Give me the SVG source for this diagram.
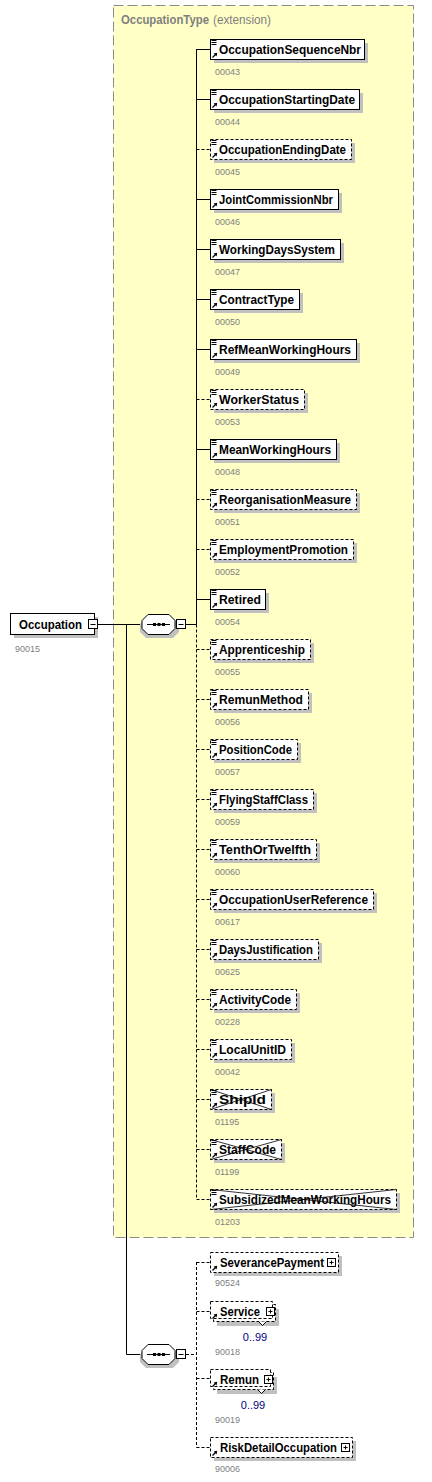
<svg xmlns="http://www.w3.org/2000/svg" xmlns:xlink="http://www.w3.org/1999/xlink" width="432" height="1482" viewBox="0 0 432 1482">
<style>
.bg{fill:#ffffc6;stroke:#8a8a8a;stroke-width:1;stroke-dasharray:10,4}
.sh{fill:#c0c0c0}
.bx{fill:#fff;stroke:#000;stroke-width:1}
.op{stroke-dasharray:3,2}
.lb{font-family:"Liberation Sans",Arial,sans-serif;font-weight:bold;font-size:13px;fill:#000}
.nm{font-family:"Liberation Sans",Arial,sans-serif;font-size:9px;fill:#808080}
.oc{font-family:"Liberation Sans",Arial,sans-serif;font-size:11px;fill:#000080}
.ti{font-family:"Liberation Sans",Arial,sans-serif;font-size:12px;fill:#808080}
.ln{stroke:#000;stroke-width:1;fill:none}
.dl{stroke:#000;stroke-width:1;fill:none;stroke-dasharray:3,2}
.x{stroke:#000;stroke-width:0.8}
</style>
<defs>
<g id="ico">
<path d="M211.5,1.5h5M211.5,3.5h5M211.5,5.5h5" stroke="#000" stroke-width="1"/>
<path d="M212.5,18.5L215.5,15.5" stroke="#000" stroke-width="1.2"/>
<path d="M217.2,13.8L213.6,14.4L216.6,17.4Z" fill="#000"/>
</g>
<g id="arr">
<path d="M212.5,18.5L215.5,15.5" stroke="#000" stroke-width="1.2"/>
<path d="M217.2,13.8L213.6,14.4L216.6,17.4Z" fill="#000"/>
</g>
<g id="seq">
<path d="M146,4L173,4L179,10L179,18L173,24L146,24L140,18L140,10Z" fill="#c0c0c0"/>
<path d="M148,0.5L169,0.5L175,6.5L175,14.5L169,20.5L148,20.5L142,14.5L142,6.5Z" fill="#fff" stroke="#000"/>
<path d="M147,10.5H170" stroke="#000"/>
<rect x="153" y="9" width="3" height="3" fill="#000"/>
<rect x="157.5" y="9" width="3" height="3" fill="#000"/>
<rect x="162" y="9" width="3" height="3" fill="#000"/>
<rect x="176.5" y="5.5" width="9" height="9" fill="#fff" stroke="#000"/>
<path d="M178.5,10.5H183.5" stroke="#000"/>
</g>
<g id="plus">
<rect x="0.5" y="0.5" width="8" height="8" fill="#fff" stroke="#000"/>
<path d="M2.5,4.5H6.5M4.5,2.5V6.5" stroke="#000"/>
</g>
</defs>

<rect class="bg" x="113.5" y="5.5" width="300" height="1232"/>
<text class="ti" x="121" y="24" font-weight="bold" textLength="88" lengthAdjust="spacingAndGlyphs">OccupationType</text>
<text class="ti" x="213" y="24" textLength="58" lengthAdjust="spacingAndGlyphs">(extension)</text>

<g id="connectors">
<path class="ln" d="M97.5,624.5H142M126.5,624.5V1354.5H141M186,624.5H196.5M196.5,49V624.5"/>
<path class="dl" d="M196.5,624.5V1199"/>
<path class="ln" d="M196.5,49.5H210M196.5,99.5H210M196.5,199.5H210M196.5,249.5H210M196.5,299.5H210M196.5,349.5H210M196.5,449.5H210M196.5,599.5H210"/>
<path class="dl" d="M196.5,149.5H210M196.5,399.5H210M196.5,499.5H210M196.5,549.5H210M196.5,649.5H210M196.5,699.5H210M196.5,749.5H210M196.5,799.5H210M196.5,849.5H210M196.5,899.5H210M196.5,949.5H210M196.5,999.5H210M196.5,1049.5H210M196.5,1099.5H210M196.5,1149.5H210M196.5,1199.5H210"/>
<path class="dl" d="M186,1354.5H196.5M196.5,1262V1447.5M196.5,1262.5H210M196.5,1311.5H210M196.5,1378.5H210M196.5,1447.5H210"/>
</g>

<g id="n-Occupation">
<rect class="sh" x="14" y="617" width="84" height="21"/>
<rect class="bx" x="10.5" y="613.5" width="84" height="21"/>
<text class="lb" x="19" y="629" textLength="63" lengthAdjust="spacingAndGlyphs">Occupation</text>
<rect x="88.5" y="619.5" width="9" height="9" fill="#fff" stroke="#000"/>
<path d="M90.5,624.5H95.5" stroke="#000"/>
<text class="nm" x="15" y="652">90015</text>
</g>

<g id="n-sequence1" transform="translate(0,614)"><use xlink:href="#seq"/></g>
<g id="n-sequence2" transform="translate(0,1344)"><use xlink:href="#seq"/></g>

<g id="n-OccupationSequenceNbr" transform="translate(0,39)">
<rect class="sh" x="214" y="4" width="154" height="20"/><rect class="bx" x="210.5" y="0.5" width="154" height="20"/><use xlink:href="#ico"/>
<text class="lb" x="219" y="15" textLength="142" lengthAdjust="spacingAndGlyphs">OccupationSequenceNbr</text><text class="nm" x="215" y="36">00043</text></g>

<g id="n-OccupationStartingDate" transform="translate(0,89)">
<rect class="sh" x="214" y="4" width="149" height="20"/><rect class="bx" x="210.5" y="0.5" width="149" height="20"/><use xlink:href="#ico"/>
<text class="lb" x="219" y="15" textLength="136" lengthAdjust="spacingAndGlyphs">OccupationStartingDate</text><text class="nm" x="215" y="36">00044</text></g>

<g id="n-OccupationEndingDate" transform="translate(0,139)">
<rect class="sh" x="214" y="4" width="141" height="20"/><rect class="bx op" x="210.5" y="0.5" width="141" height="20"/><use xlink:href="#ico"/>
<text class="lb" x="219" y="15" textLength="127" lengthAdjust="spacingAndGlyphs">OccupationEndingDate</text><text class="nm" x="215" y="36">00045</text></g>

<g id="n-JointCommissionNbr" transform="translate(0,189)">
<rect class="sh" x="214" y="4" width="128" height="20"/><rect class="bx" x="210.5" y="0.5" width="128" height="20"/><use xlink:href="#ico"/>
<text class="lb" x="219" y="15" textLength="114" lengthAdjust="spacingAndGlyphs">JointCommissionNbr</text><text class="nm" x="215" y="36">00046</text></g>

<g id="n-WorkingDaysSystem" transform="translate(0,239)">
<rect class="sh" x="214" y="4" width="130" height="20"/><rect class="bx" x="210.5" y="0.5" width="130" height="20"/><use xlink:href="#ico"/>
<text class="lb" x="219" y="15" textLength="116" lengthAdjust="spacingAndGlyphs">WorkingDaysSystem</text><text class="nm" x="215" y="36">00047</text></g>

<g id="n-ContractType" transform="translate(0,289)">
<rect class="sh" x="214" y="4" width="89" height="20"/><rect class="bx" x="210.5" y="0.5" width="89" height="20"/><use xlink:href="#ico"/>
<text class="lb" x="219" y="15" textLength="75" lengthAdjust="spacingAndGlyphs">ContractType</text><text class="nm" x="215" y="36">00050</text></g>

<g id="n-RefMeanWorkingHours" transform="translate(0,339)">
<rect class="sh" x="214" y="4" width="146" height="20"/><rect class="bx" x="210.5" y="0.5" width="146" height="20"/><use xlink:href="#ico"/>
<text class="lb" x="219" y="15" textLength="132" lengthAdjust="spacingAndGlyphs">RefMeanWorkingHours</text><text class="nm" x="215" y="36">00049</text></g>

<g id="n-WorkerStatus" transform="translate(0,389)">
<rect class="sh" x="214" y="4" width="94" height="20"/><rect class="bx op" x="210.5" y="0.5" width="94" height="20"/><use xlink:href="#ico"/>
<text class="lb" x="219" y="15" textLength="80" lengthAdjust="spacingAndGlyphs">WorkerStatus</text><text class="nm" x="215" y="36">00053</text></g>

<g id="n-MeanWorkingHours" transform="translate(0,439)">
<rect class="sh" x="214" y="4" width="126" height="20"/><rect class="bx" x="210.5" y="0.5" width="126" height="20"/><use xlink:href="#ico"/>
<text class="lb" x="219" y="15" textLength="112" lengthAdjust="spacingAndGlyphs">MeanWorkingHours</text><text class="nm" x="215" y="36">00048</text></g>

<g id="n-ReorganisationMeasure" transform="translate(0,489)">
<rect class="sh" x="214" y="4" width="146" height="20"/><rect class="bx op" x="210.5" y="0.5" width="146" height="20"/><use xlink:href="#ico"/>
<text class="lb" x="219" y="15" textLength="132" lengthAdjust="spacingAndGlyphs">ReorganisationMeasure</text><text class="nm" x="215" y="36">00051</text></g>

<g id="n-EmploymentPromotion" transform="translate(0,539)">
<rect class="sh" x="214" y="4" width="143" height="20"/><rect class="bx op" x="210.5" y="0.5" width="143" height="20"/><use xlink:href="#ico"/>
<text class="lb" x="219" y="15" textLength="129" lengthAdjust="spacingAndGlyphs">EmploymentPromotion</text><text class="nm" x="215" y="36">00052</text></g>

<g id="n-Retired" transform="translate(0,589)">
<rect class="sh" x="214" y="4" width="55" height="20"/><rect class="bx" x="210.5" y="0.5" width="55" height="20"/><use xlink:href="#ico"/>
<text class="lb" x="219" y="15" textLength="42" lengthAdjust="spacingAndGlyphs">Retired</text><text class="nm" x="215" y="36">00054</text></g>

<g id="n-Apprenticeship" transform="translate(0,639)">
<rect class="sh" x="214" y="4" width="100" height="20"/><rect class="bx op" x="210.5" y="0.5" width="100" height="20"/><use xlink:href="#ico"/>
<text class="lb" x="219" y="15" textLength="86" lengthAdjust="spacingAndGlyphs">Apprenticeship</text><text class="nm" x="215" y="36">00055</text></g>

<g id="n-RemunMethod" transform="translate(0,689)">
<rect class="sh" x="214" y="4" width="98" height="20"/><rect class="bx op" x="210.5" y="0.5" width="98" height="20"/><use xlink:href="#ico"/>
<text class="lb" x="219" y="15" textLength="84" lengthAdjust="spacingAndGlyphs">RemunMethod</text><text class="nm" x="215" y="36">00056</text></g>

<g id="n-PositionCode" transform="translate(0,739)">
<rect class="sh" x="214" y="4" width="87" height="20"/><rect class="bx op" x="210.5" y="0.5" width="87" height="20"/><use xlink:href="#ico"/>
<text class="lb" x="219" y="15" textLength="73" lengthAdjust="spacingAndGlyphs">PositionCode</text><text class="nm" x="215" y="36">00057</text></g>

<g id="n-FlyingStaffClass" transform="translate(0,789)">
<rect class="sh" x="214" y="4" width="103" height="20"/><rect class="bx op" x="210.5" y="0.5" width="103" height="20"/><use xlink:href="#ico"/>
<text class="lb" x="219" y="15" textLength="89" lengthAdjust="spacingAndGlyphs">FlyingStaffClass</text><text class="nm" x="215" y="36">00059</text></g>

<g id="n-TenthOrTwelfth" transform="translate(0,839)">
<rect class="sh" x="214" y="4" width="106" height="20"/><rect class="bx op" x="210.5" y="0.5" width="106" height="20"/><use xlink:href="#ico"/>
<text class="lb" x="219" y="15" textLength="92" lengthAdjust="spacingAndGlyphs">TenthOrTwelfth</text><text class="nm" x="215" y="36">00060</text></g>

<g id="n-OccupationUserReference" transform="translate(0,889)">
<rect class="sh" x="214" y="4" width="163" height="20"/><rect class="bx op" x="210.5" y="0.5" width="163" height="20"/><use xlink:href="#ico"/>
<text class="lb" x="219" y="15" textLength="149" lengthAdjust="spacingAndGlyphs">OccupationUserReference</text><text class="nm" x="215" y="36">00617</text></g>

<g id="n-DaysJustification" transform="translate(0,939)">
<rect class="sh" x="214" y="4" width="108" height="20"/><rect class="bx op" x="210.5" y="0.5" width="108" height="20"/><use xlink:href="#ico"/>
<text class="lb" x="219" y="15" textLength="94" lengthAdjust="spacingAndGlyphs">DaysJustification</text><text class="nm" x="215" y="36">00625</text></g>

<g id="n-ActivityCode" transform="translate(0,989)">
<rect class="sh" x="214" y="4" width="86" height="20"/><rect class="bx op" x="210.5" y="0.5" width="86" height="20"/><use xlink:href="#ico"/>
<text class="lb" x="219" y="15" textLength="72" lengthAdjust="spacingAndGlyphs">ActivityCode</text><text class="nm" x="215" y="36">00228</text></g>

<g id="n-LocalUnitID" transform="translate(0,1039)">
<rect class="sh" x="214" y="4" width="81" height="20"/><rect class="bx op" x="210.5" y="0.5" width="81" height="20"/><use xlink:href="#ico"/>
<text class="lb" x="219" y="15" textLength="67" lengthAdjust="spacingAndGlyphs">LocalUnitID</text><text class="nm" x="215" y="36">00042</text></g>

<g id="n-ShipId" transform="translate(0,1089)">
<rect class="sh" x="214" y="4" width="61" height="20"/><rect class="bx op" x="210.5" y="0.5" width="61" height="20"/><use xlink:href="#ico"/>
<text class="lb" x="219" y="15" textLength="47" lengthAdjust="spacingAndGlyphs">ShipId</text>
<path class="x" d="M210.5,0.5L271.5,20.5M210.5,20.5L271.5,0.5"/><text class="nm" x="215" y="36">01195</text></g>

<g id="n-StaffCode" transform="translate(0,1139)">
<rect class="sh" x="214" y="4" width="71" height="20"/><rect class="bx op" x="210.5" y="0.5" width="71" height="20"/><use xlink:href="#ico"/>
<text class="lb" x="219" y="15" textLength="57" lengthAdjust="spacingAndGlyphs">StaffCode</text>
<path class="x" d="M210.5,0.5L281.5,20.5M210.5,20.5L281.5,0.5"/><text class="nm" x="215" y="36">01199</text></g>

<g id="n-SubsidizedMeanWorkingHours" transform="translate(0,1189)">
<rect class="sh" x="214" y="4" width="186" height="20"/><rect class="bx op" x="210.5" y="0.5" width="186" height="20"/><use xlink:href="#ico"/>
<text class="lb" x="219" y="15" textLength="172" lengthAdjust="spacingAndGlyphs">SubsidizedMeanWorkingHours</text>
<path class="x" d="M210.5,0.5L396.5,20.5M210.5,20.5L396.5,0.5"/><text class="nm" x="215" y="36">01203</text></g>

<g id="n-SeverancePayment" transform="translate(0,1252)">
<rect class="sh" x="214" y="4" width="128" height="20"/><rect class="bx op" x="210.5" y="0.5" width="128" height="20"/><use xlink:href="#arr"/>
<text class="lb" x="220" y="15" textLength="104" lengthAdjust="spacingAndGlyphs">SeverancePayment</text>
<use xlink:href="#plus" x="327" y="6"/><text class="nm" x="215" y="34">90524</text></g>

<g id="n-Service" transform="translate(0,1301)">
<rect class="sh" x="217" y="8" width="62" height="17"/>
<rect class="bx op" x="213.5" y="3.5" width="62" height="17"/>
<rect class="bx op" x="210.5" y="0.5" width="62" height="17"/>
<use xlink:href="#arr" y="-1"/>
<text class="lb" x="220" y="15" textLength="40" lengthAdjust="spacingAndGlyphs">Service</text>
<use xlink:href="#plus" x="266" y="6"/>
<path d="M258.5,20.5L262.5,24.5L266.5,20.5" fill="#fff" stroke="#000"/>
<text class="oc" x="255" y="40" text-anchor="middle">0..99</text>
<text class="nm" x="215" y="54">90018</text></g>

<g id="n-Remun" transform="translate(0,1369)">
<rect class="sh" x="217" y="8" width="60" height="17"/>
<rect class="bx op" x="213.5" y="3.5" width="60" height="17"/>
<rect class="bx op" x="210.5" y="0.5" width="60" height="17"/>
<use xlink:href="#arr" y="-1"/>
<text class="lb" x="220" y="15" textLength="39" lengthAdjust="spacingAndGlyphs">Remun</text>
<use xlink:href="#plus" x="264" y="6"/>
<path d="M257.5,20.5L261.5,24.5L265.5,20.5" fill="#fff" stroke="#000"/>
<text class="oc" x="253" y="40" text-anchor="middle">0..99</text>
<text class="nm" x="215" y="54">90019</text></g>

<g id="n-RiskDetailOccupation" transform="translate(0,1437)">
<rect class="sh" x="214" y="4" width="142" height="20"/><rect class="bx op" x="210.5" y="0.5" width="142" height="20"/><use xlink:href="#arr"/>
<text class="lb" x="220" y="15" textLength="117" lengthAdjust="spacingAndGlyphs">RiskDetailOccupation</text>
<use xlink:href="#plus" x="341" y="6"/><text class="nm" x="215" y="35">90006</text></g>
</svg>
